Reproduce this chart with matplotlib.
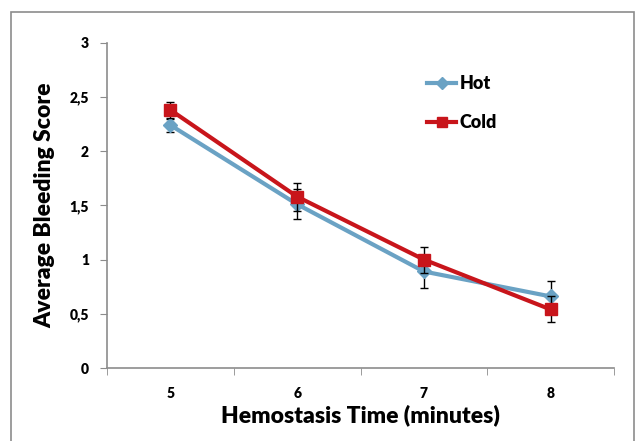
import matplotlib.pyplot as plt
from matplotlib.patches import Rectangle
from matplotlib.lines import Line2D

# hemostasis time categories and average bleeding scores
times = ['5', '6', '7', '8']
hot = [2.24, 1.51, 0.89, 0.66]
hot_err = [0.06, 0.14, 0.15, 0.14]
cold = [2.38, 1.58, 1.00, 0.54]
cold_err = [0.07, 0.13, 0.12, 0.12]
yticks = [0, 0.5, 1, 1.5, 2, 2.5, 3]
ytick_labels = ['0', '0,5', '1', '1,5', '2', '2,5', '3']

plt.rcParams['font.family'] = ['Lato', 'DejaVu Sans']

fig = plt.figure(figsize=(6.38, 4.41), dpi=100)
# outer chart frame like the Excel chart area
fig.patches.append(Rectangle((11/638, -0.01), 623/638, 1 - 12/441 + 0.01,
                             transform=fig.transFigure, fill=False,
                             edgecolor='#8c8c8c', linewidth=1.2))
ax = fig.add_axes([107/638, 1 - 368/441, (614 - 107)/638, (368 - 42.7)/441])

x = list(range(len(times)))
hot_col = '#6aa2c4'
cold_col = '#c8151b'

ax.errorbar(x, hot, yerr=hot_err, color=hot_col, lw=3, marker='D', ms=7,
            ecolor='black', elinewidth=1, capsize=3, capthick=1, zorder=3)
ax.errorbar(x, cold, yerr=cold_err, color=cold_col, lw=3, marker='s', ms=9,
            ecolor='black', elinewidth=1, capsize=3, capthick=1, zorder=4)

ax.set_xlim(-0.5, 3.5)
ax.set_ylim(0, 3)
ax.set_yticks(yticks)
ax.set_yticklabels(ytick_labels, fontsize=10, fontweight='heavy')
ax.set_xticks(x)
ax.set_xticklabels(times, fontsize=10, fontweight='heavy')
ax.set_xticks([-0.5, 0.5, 1.5, 2.5, 3.5], minor=True)
ax.tick_params(axis='x', which='major', length=0, pad=14)
ax.tick_params(axis='x', which='minor', length=5, color='#8c8c8c', direction='out')
ax.tick_params(axis='y', length=5, color='#8c8c8c', direction='out', pad=8)

for s in ['top', 'right']:
    ax.spines[s].set_visible(False)
for s in ['left', 'bottom']:
    ax.spines[s].set_color('#8c8c8c')
    ax.spines[s].set_linewidth(1.2)

ax.set_xlabel('Hemostasis Time (minutes)', fontsize=16.5, fontweight='heavy', labelpad=3)
ax.set_ylabel('Average Bleeding Score', fontsize=16.5, fontweight='heavy', labelpad=10)

handles = [Line2D([], [], color=hot_col, lw=3, marker='D', ms=6),
           Line2D([], [], color=cold_col, lw=3, marker='s', ms=7)]
ax.legend(handles, ['Hot', 'Cold'], loc='upper left', bbox_to_anchor=(0.6, 0.95),
          frameon=False, prop={'size': 13, 'weight': 'heavy'}, handlelength=1.6,
          handletextpad=0.2, labelspacing=1.2)

plt.savefig('out.png', dpi=100)
